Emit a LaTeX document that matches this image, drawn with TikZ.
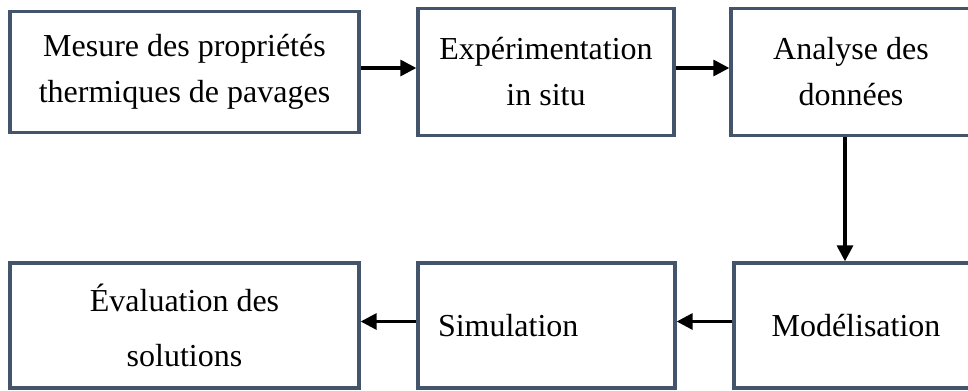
\documentclass[tikz,border=0pt]{standalone}
\usepackage{fontspec}
\setmainfont{Liberation Serif}
\usetikzlibrary{arrows.meta}
\definecolor{boxframe}{HTML}{44546A}
\begin{document}
\begin{tikzpicture}[x=0.75pt,y=-0.75pt,
        stage/.style={draw=boxframe,line width=2.5pt,align=center,inner sep=0pt,
            font=\fontsize{24pt}{34.5pt}\selectfont},
        flow/.style={-{Triangle[length=12pt,width=12pt]},line width=2.4pt}]
    \useasboundingbox (0,0) rectangle (968,390);
    % top row
    \node[stage,minimum width=261.75pt,minimum height=90.75pt] (mesure) at (184.5,72) {Mesure des propriétés\\thermiques de pavages};
    \node[stage,minimum width=192pt,minimum height=95.25pt] (experim) at (546,72) {Expérimentation\\in situ};
    \node[stage,minimum width=180pt,minimum height=95.25pt] (analyse) at (851,72) {Analyse des\\données};
    % bottom row
    \node[stage,minimum width=183pt,minimum height=93.75pt] (modelisation) at (856,325.5) {Modélisation};
    \node[stage,align=left,inner xsep=15pt,text width=162.75pt,minimum height=93.75pt] (simulation) at (546.5,325.5) {Simulation};
    \node[stage,minimum width=261.75pt,minimum height=93.75pt] (evaluation) at (184.5,325.5) {Évaluation des\\[6.5pt]solutions};
    \draw[flow] ([yshift=3pt]mesure.east) -- ([yshift=3pt]experim.west);
    \draw[flow] ([yshift=3pt]experim.east) -- ([yshift=3pt]analyse.west);
    \coordinate (drop) at ([xshift=-4.5pt]analyse.south);
    \draw[flow] (drop) -- (drop |- modelisation.north);
    \draw[flow] ([yshift=3pt]modelisation.west) -- ([yshift=3pt]simulation.east);
    \draw[flow] ([yshift=3pt]simulation.west) -- ([yshift=3pt]evaluation.east);
\end{tikzpicture}
\end{document}
